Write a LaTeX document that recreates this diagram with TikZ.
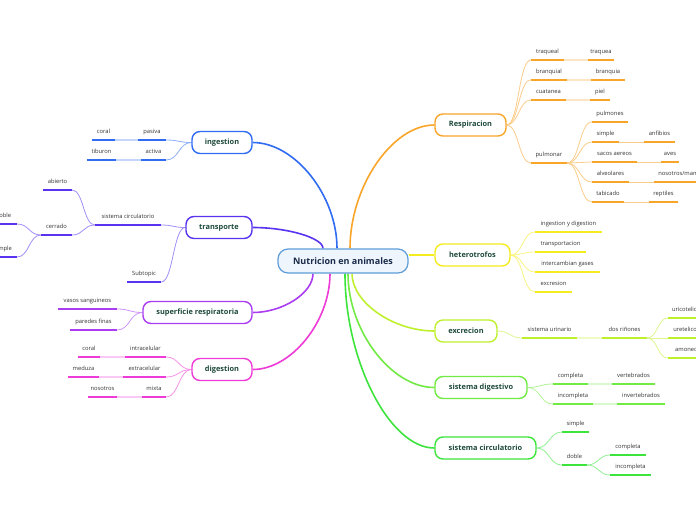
\documentclass[tikz,border=0pt]{standalone}
\usepackage{fontspec}
\setmainfont{Open Sans}
\usetikzlibrary{calc}
\pgfdeclarelayer{background}
\pgfsetlayers{background,main}
\definecolor{cR}{HTML}{F8A52A}
\definecolor{cY}{HTML}{F4EC1E}
\definecolor{cE}{HTML}{BFF02E}
\definecolor{cD}{HTML}{72EA44}
\definecolor{cS}{HTML}{3CE43C}
\definecolor{cB}{HTML}{2F6CF2}
\definecolor{cP}{HTML}{5A33F0}
\definecolor{cV}{HTML}{AA3CF2}
\definecolor{cM}{HTML}{EE3AD6}
\definecolor{cC}{HTML}{5E9DD8}
\definecolor{cCf}{HTML}{EEF5FC}
\definecolor{ctxt}{HTML}{1A2A4A}
\definecolor{ttxt}{HTML}{1E4A3C}
\definecolor{stxt}{HTML}{333333}
\tikzset{
  topic/.style={draw=#1, fill=white, line width=1.4pt, rounded corners=8pt,
    minimum height=22pt, inner xsep=3pt, text=ttxt,
    font=\fontsize{7.4}{8}\selectfont\bfseries},
  subt/.style={anchor=south, inner xsep=0pt, inner ysep=0pt, text height=4.5pt,
    text depth=6.5pt, text=stxt, font=\fontsize{5.8}{6}\selectfont},
  ul/.style={draw=#1, line width=1.8pt},
  lconn/.style={draw=#1!55!white, line width=0.8pt},
  pale/.style={draw=#1!28!white, line width=1.8pt},
  mconn/.style={draw=#1, line width=1.6pt},
}
\newcommand\sbn[6]{\node[subt, minimum width={(#4-(#3))*1pt}] (#1) at ({(#3+#4)/2},#5) {#6};
  \draw[ul=#2] (#1.south west) -- (#1.south east);}
\newcommand\hcurve[3]{\draw[#1] let \p1=(#2), \p2=(#3) in (\p1) .. controls ({(\x1+\x2)/2},\y1) and ({(\x1+\x2)/2},\y2) .. (\p2);}
\newcommand\vcurve[3]{\draw[#1] let \p1=(#2), \p2=(#3) in (\p1) .. controls (\x1,{(\y1+\y2)/2}) and ({(\x1+\x2)/2},\y2) .. (\p2);}
\begin{document}
\begin{tikzpicture}[x=1pt,y=-1pt]
\useasboundingbox (0,0) rectangle (696,520);
% center
\node[draw=cC, fill=cCf, line width=1.2pt, rounded corners=10pt, minimum width=130pt,
  minimum height=24pt, text=ctxt, font=\fontsize{9}{10}\selectfont\bfseries] (c) at (343,261) {Nutricion en animales};
% topics
\node[topic=cR, minimum width=71pt] (R) at (470.5,125) {Respiracion};
\node[topic=cY, minimum width=75pt] (H) at (472.5,255) {heterotrofos};
\node[topic=cE, minimum width=62pt] (E) at (466,331) {excrecion};
\node[topic=cD, minimum width=92pt] (D) at (481,387.5) {sistema digestivo};
\node[topic=cS, minimum width=101pt] (SC) at (485.5,448) {sistema circulatorio};
\node[topic=cB, minimum width=60pt] (I) at (222,142.5) {ingestion};
\node[topic=cP, minimum width=66pt] (T) at (219,227.5) {transporte};
\node[topic=cV, minimum width=109pt] (S) at (197.5,312.5) {superficie respiratoria};
\node[topic=cM, minimum width=60pt] (G) at (222,369.5) {digestion};
% Respiracion
\sbn{r1}{cR}{531}{564}{60}{traqueal}
\sbn{r1b}{cR}{588}{614}{60}{traquea}
\sbn{r2}{cR}{531}{567}{80}{branquial}
\sbn{r2b}{cR}{591}{625}{80}{branquia}
\sbn{r3}{cR}{531}{566}{100}{cuatanea}
\sbn{r3b}{cR}{590}{610}{100}{piel}
\sbn{r4}{cR}{531}{567}{163}{pulmonar}
\sbn{p1}{cR}{592}{628}{122}{pulmones}
\sbn{p2}{cR}{592}{619}{142}{simple}
\sbn{p2b}{cR}{644}{675}{142}{anfibios}
\sbn{p3}{cR}{592}{637}{162}{sacos aereos}
\sbn{p3b}{cR}{661}{679}{162}{aves}
\sbn{p4}{cR}{592}{629}{182}{alveolares}
\sbn{p4b}{cR}{654}{718}{182}{nosotros/mamiferos}
\sbn{p5}{cR}{592}{624}{202}{tabicado}
\sbn{p5b}{cR}{649}{678}{202}{reptiles}
% heterotrofos
\sbn{h1}{cY}{535}{602}{232}{ingestion y digestion}
\sbn{h2}{cY}{535}{586}{252}{transportacion}
\sbn{h3}{cY}{535}{600}{272}{intercambian gases}
\sbn{h4}{cY}{535}{572}{292}{excresion}
% excrecion
\sbn{e1}{cE}{522}{577}{338}{sistema urinario}
\sbn{e2}{cE}{602}{647}{338}{dos riñones}
\sbn{e3}{cE}{668}{707}{318}{uricotelicos}
\sbn{e4}{cE}{668}{705}{338}{uretelicos}
\sbn{e5}{cE}{668}{722}{358}{amoneotelicos}
% sistema digestivo
\sbn{d1}{cD}{553}{588}{384}{completa}
\sbn{d1b}{cD}{612}{655}{384}{vertebrados}
\sbn{d2}{cD}{553}{593}{404}{incompleta}
\sbn{d2b}{cD}{617}{665}{404}{invertebrados}
% sistema circulatorio
\sbn{c1}{cS}{562}{589}{432}{simple}
\sbn{c2}{cS}{562}{587}{465}{doble}
\sbn{c3}{cS}{610}{646}{455}{completa}
\sbn{c4}{cS}{610}{651}{475}{incompleta}
% ingestion
\sbn{i1}{cB}{138}{166}{140}{pasiva}
\sbn{i1b}{cB}{92}{115}{140}{coral}
\sbn{i2}{cB}{141}{166}{160}{activa}
\sbn{i2b}{cB}{87}{116}{160}{tiburon}
% transporte
\sbn{t1}{cP}{95}{161}{225}{sistema circulatorio}
\sbn{t1a}{cP}{43}{72}{190}{abierto}
\sbn{t1b}{cP}{41}{72}{235}{cerrado}
\sbn{t1c}{cP}{-10}{17}{224}{doble}
\sbn{t1d}{cP}{-11}{17}{257}{simple}
\sbn{t2}{cP}{127}{161}{282}{Subtopic}
% superficie
\sbn{s1}{cV}{58}{117}{309}{vasos sanguineos}
\sbn{s2}{cV}{70}{117}{330}{paredes finas}
% digestion
\sbn{g1}{cM}{125}{166}{357}{intracelular}
\sbn{g1b}{cM}{78}{100}{357}{coral}
\sbn{g2}{cM}{123}{166}{377}{extracelular}
\sbn{g2b}{cM}{68}{99}{377}{meduza}
\sbn{g3}{cM}{142}{166}{397}{mixta}
\sbn{g3b}{cM}{88}{117}{397}{nosotros}
\begin{pgfonlayer}{background}
\fill[white] (0,0) rectangle (696,520);
% main connectors
\vcurve{mconn=cB}{$(c.north)+(-6,0)$}{I.east}
\vcurve{mconn=cP}{$(c.north)+(-20,0)$}{T.east}
\vcurve{mconn=cV}{$(c.south)+(-30,0)$}{S.east}
\vcurve{mconn=cM}{$(c.south)+(-13,0)$}{G.east}
\vcurve{mconn=cR}{$(c.north)+(7,0)$}{R.west}
\hcurve{mconn=cY}{$(c.east)+(0,-6)$}{H.west}
\vcurve{mconn=cE}{$(c.south)+(9,0)$}{E.west}
\vcurve{mconn=cD}{$(c.south)+(5,0)$}{D.west}
\vcurve{mconn=cS}{$(c.south)+(2,0)$}{SC.west}
% Respiracion
\foreach \k in {r1,r2,r3,r4} {\hcurve{lconn=cR}{R.east}{\k.south west}}
\foreach \a/\b in {r1/r1b,r2/r2b,r3/r3b} {\draw[pale=cR] (\a.south east) -- (\b.south west);}
\foreach \k in {p1,p2,p3,p4,p5} {\hcurve{lconn=cR}{r4.south east}{\k.south west}}
\foreach \a/\b in {p2/p2b,p3/p3b,p4/p4b,p5/p5b} {\draw[lconn=cR] (\a.south east) -- (\b.south west);}
% heterotrofos
\foreach \k in {h1,h2,h3,h4} {\hcurve{lconn=cY}{H.east}{\k.south west}}
% excrecion
\hcurve{lconn=cE}{E.east}{e1.south west}
\draw[pale=cE] (e1.south east) -- (e2.south west);
\foreach \k in {e3,e4,e5} {\hcurve{lconn=cE}{e2.south east}{\k.south west}}
% sistema digestivo
\foreach \k in {d1,d2} {\hcurve{lconn=cD}{D.east}{\k.south west}}
\draw[pale=cD] (d1.south east) -- (d1b.south west);
\draw[pale=cD] (d2.south east) -- (d2b.south west);
% sistema circulatorio
\foreach \k in {c1,c2} {\hcurve{lconn=cS}{SC.east}{\k.south west}}
\foreach \k in {c3,c4} {\hcurve{lconn=cS}{c2.south east}{\k.south west}}
% ingestion
\foreach \k in {i1,i2} {\hcurve{lconn=cB}{I.west}{\k.south east}}
\draw[pale=cB] (i1.south west) -- (i1b.south east);
\draw[pale=cB] (i2.south west) -- (i2b.south east);
% transporte
\foreach \k in {t1,t2} {\hcurve{lconn=cP}{T.west}{\k.south east}}
\foreach \k in {t1a,t1b} {\hcurve{lconn=cP}{t1.south west}{\k.south east}}
\foreach \k in {t1c,t1d} {\hcurve{lconn=cP}{t1b.south west}{\k.south east}}
% superficie
\foreach \k in {s1,s2} {\hcurve{lconn=cV}{S.west}{\k.south east}}
% digestion
\foreach \k in {g1,g2,g3} {\hcurve{lconn=cM}{G.west}{\k.south east}}
\foreach \a/\b in {g1/g1b,g2/g2b,g3/g3b} {\draw[pale=cM] (\a.south west) -- (\b.south east);}
\end{pgfonlayer}
\end{tikzpicture}
\end{document}
